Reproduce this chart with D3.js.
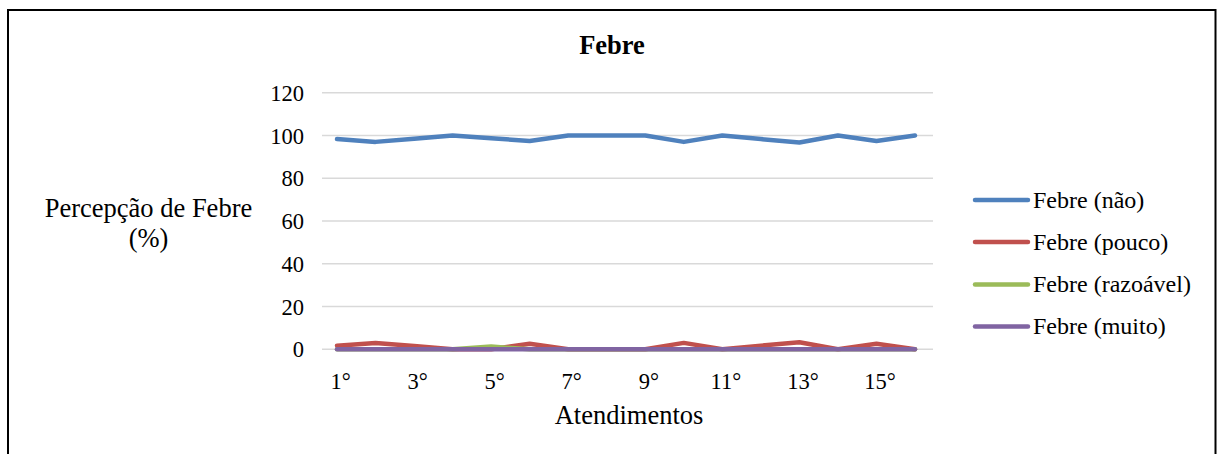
<!DOCTYPE html>
<html>
<head>
<meta charset="utf-8">
<script src="https://cdn.jsdelivr.net/npm/d3@7"></script>
<style>
  html, body { margin: 0; padding: 0; background: #fff; }
  svg { display: block; }
  svg text { font-family: "Liberation Serif", "Times New Roman", Tinos, serif; fill: #000; }
</style>
</head>
<body>
<svg id="chart" width="1218" height="454"></svg>
<script>
const categories = ["1°","2°","3°","4°","5°","6°","7°","8°","9°","10°","11°","12°","13°","14°","15°","16°"];
const febreNao      = [98.3, 97, 98.5, 100, 98.7, 97.4, 100, 100, 100, 97, 100, 98.3, 96.7, 100, 97.4, 100];
const febrePouco    = [1.7, 3, 1.5, 0, 0, 2.6, 0, 0, 0, 3, 0, 1.7, 3.3, 0, 2.6, 0];
const febreRazoavel = [0, 0, 0, 0, 1.3, 0, 0, 0, 0, 0, 0, 0, 0, 0, 0, 0];
const febreMuito    = [0, 0, 0, 0, 0, 0, 0, 0, 0, 0, 0, 0, 0, 0, 0, 0];
const seriesNames = ["Febre (não)", "Febre (pouco)", "Febre (razoável)", "Febre (muito)"];
const seriesColors = ["#4F81BD", "#C0504D", "#9BBB59", "#8064A2"];
const yTicks = [0, 20, 40, 60, 80, 100, 120];
const xTickLabels = ["1°","3°","5°","7°","9°","11°","13°","15°"];

const series = [febreNao, febrePouco, febreRazoavel, febreMuito].map((v, i) => ({
  name: seriesNames[i], color: seriesColors[i], values: v
}));

const svg = d3.select("#chart");

// outer frame
svg.append("rect").attr("x", 8).attr("y", 10).attr("width", 1207.5).attr("height", 460)
  .attr("fill", "none").attr("stroke", "#000").attr("stroke-width", 2);

const plotLeft = 322, plotRight = 933, plotTop = 92.7, plotBottom = 349.3;

const x = d3.scalePoint().domain(categories).range([337, 915]);
const y = d3.scaleLinear().domain([0, 120]).range([plotBottom, plotTop]);

// gridlines
svg.append("g").selectAll("line").data(yTicks).join("line")
  .attr("x1", plotLeft).attr("x2", plotRight)
  .attr("y1", d => y(d)).attr("y2", d => y(d))
  .attr("stroke", "#d9d9d9").attr("stroke-width", 1.5);

// y axis labels
const yAxis = d3.axisLeft(y).tickValues(yTicks).tickSize(0).tickPadding(0);
const yg = svg.append("g").attr("transform", `translate(304,0)`).call(yAxis);
yg.attr("font-family", null).attr("font-size", null);
yg.select(".domain").remove();
yg.selectAll("text").style("font-size", "22.5px").attr("dy", "0.34em");

// x axis labels
const xAxis = d3.axisBottom(x).tickValues(xTickLabels).tickSize(0).tickPadding(0);
const xg = svg.append("g").attr("transform", `translate(3,389)`).call(xAxis);
xg.attr("font-family", null).attr("font-size", null);
xg.select(".domain").remove();
xg.selectAll("text").style("font-size", "22.5px").attr("y", 0).attr("dy", 0);

// lines
const line = d3.line().x((d, i) => x(categories[i])).y(d => y(d));
svg.append("g").selectAll("path").data(series).join("path")
  .attr("d", d => line(d.values))
  .attr("fill", "none").attr("stroke", d => d.color)
  .attr("stroke-width", 4.5).attr("stroke-linejoin", "round").attr("stroke-linecap", "round");

// title
svg.append("text").attr("x", 612).attr("y", 54).attr("text-anchor", "middle")
  .style("font-size", "26.5px").style("font-weight", "bold").text("Febre");

// axis titles
const yTitle = svg.append("text").style("font-size", "26.5px").attr("text-anchor", "middle");
yTitle.append("tspan").attr("x", 148.5).attr("y", 216.5).text("Percepção de Febre");
yTitle.append("tspan").attr("x", 148.5).attr("y", 246.5).text("(%)");

svg.append("text").attr("x", 629).attr("y", 424).attr("text-anchor", "middle")
  .style("font-size", "26.5px").text("Atendimentos");

// legend
const legBase = [207.5, 249.5, 292, 334];
const leg = svg.append("g").selectAll("g").data(series).join("g")
  .attr("transform", (d, i) => `translate(0,${legBase[i]})`);
leg.append("line").attr("x1", 975).attr("x2", 1028).attr("y1", -7.5).attr("y2", -7.5)
  .attr("stroke", d => d.color).attr("stroke-width", 4.5).attr("stroke-linecap", "round");
leg.append("text").attr("x", 1033).attr("y", 0)
  .style("font-size", "24px").text(d => d.name);
</script>
</body>
</html>
